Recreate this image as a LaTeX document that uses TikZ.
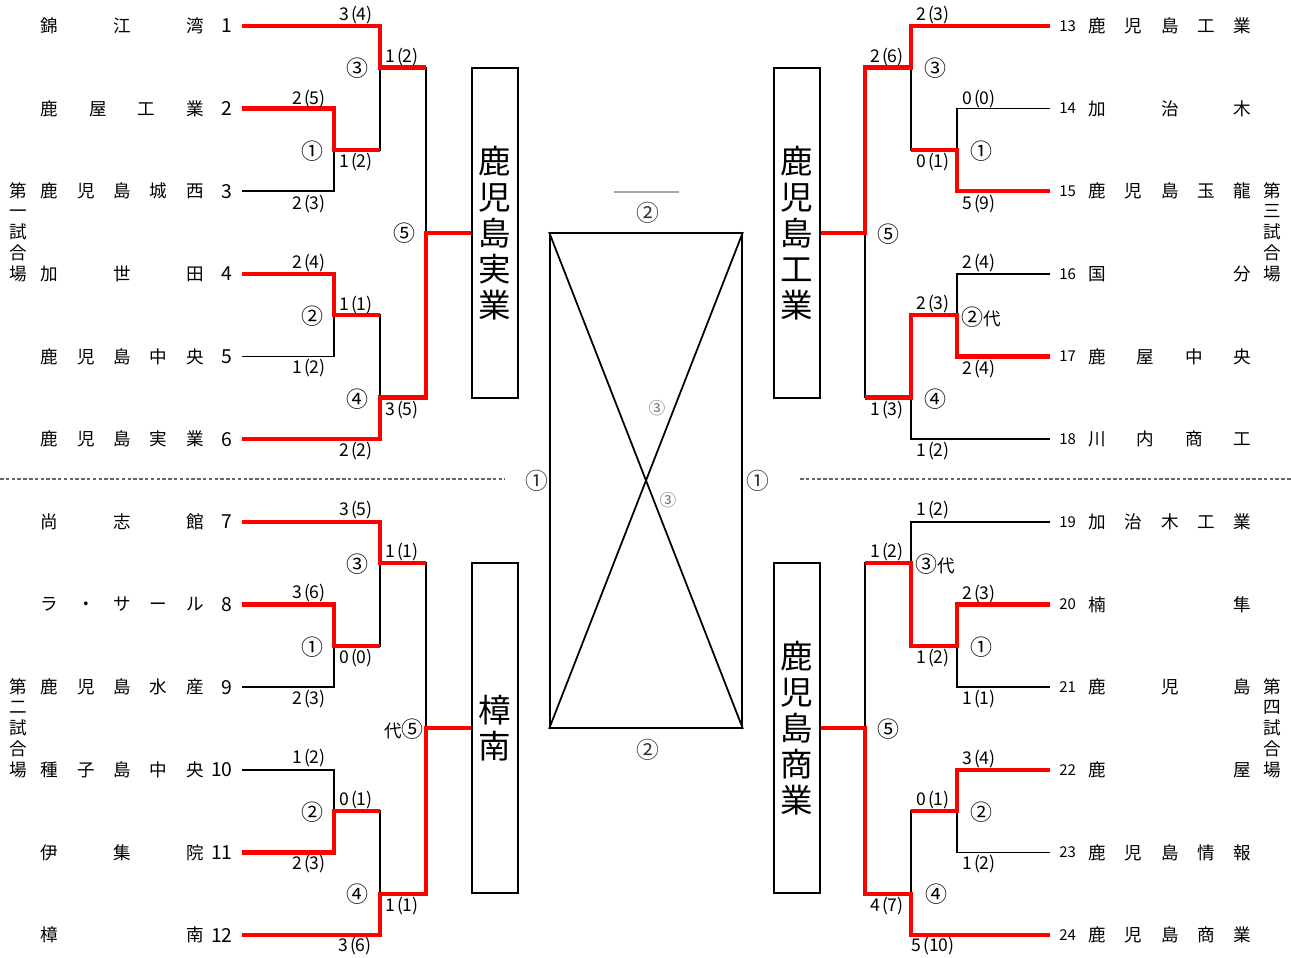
\documentclass[tikz,border=0pt]{standalone}
\usepackage{fontspec}
\setmainfont{Noto Sans CJK JP}
\tikzset{
  wire/.style = {draw=black, line width=1pt},
  wire_w/.style = {draw=red, line width=2.4pt},
  team/.style = {inner sep=0pt, anchor=west, font=\fontsize{10}{12}\selectfont},
  num_l/.style = {inner sep=0pt, anchor=east, font=\fontsize{11}{13}\selectfont},
  num_r/.style = {inner sep=0pt, anchor=west, font=\fontsize{8.5}{10}\selectfont},
  score/.style = {inner sep=0pt, font=\fontsize{10}{12}\selectfont},
  score_c/.style = {inner sep=0pt, black!80, font=\fontsize{13}{14}\selectfont},
  score_s/.style = {inner sep=0pt, black!55, font=\fontsize{9.5}{11}\selectfont},
  venue/.style = {inner sep=0pt, align=center, font=\fontsize{10}{11.8}\selectfont},
  winbox/.style = {draw, line width=1.1pt, inner sep=0pt, align=center,
    minimum width=0.92cm, minimum height=6.6cm, font=\fontsize{18.5}{20.5}\selectfont},
  dash_l/.style = {draw=black!60, line width=0.6pt, dash pattern=on 2pt off 1.3pt},
}
\newcommand{\tname}[1]{\makebox[3.26cm]{#1}}
\newcommand{\scr}[2]{#1\kern1.1pt(#2)}
\newcommand{\gno}[1]{{\fontsize{12.5}{12}\selectfont #1}}

\begin{document}
\begin{tikzpicture}[x=0.02cm, y=-0.02cm]
  \useasboundingbox (0,0) rectangle (1291,957);

  % teams, left
  \foreach \k/\y/\nm in {1/26/{錦\hfill 江\hfill 湾}, 2/108.6/{鹿\hfill 屋\hfill 工\hfill 業},
      3/191.3/{鹿\hfill 児\hfill 島\hfill 城\hfill 西}, 4/273.9/{加\hfill 世\hfill 田},
      5/356.6/{鹿\hfill 児\hfill 島\hfill 中\hfill 央}, 6/439.2/{鹿\hfill 児\hfill 島\hfill 実\hfill 業},
      7/521.8/{尚\hfill 志\hfill 館}, 8/604.5/{ラ\hfill ・\hfill サ\hfill ー\hfill ル},
      9/687.1/{鹿\hfill 児\hfill 島\hfill 水\hfill 産}, 10/769.8/{種\hfill 子\hfill 島\hfill 中\hfill 央},
      11/852.4/{伊\hfill 集\hfill 院}, 12/935/{樟\hfill 南}}{
    \node[team] (t\k) at (40.5,\y) {\tname{\nm}};
    \node[num_l] (n\k) at (233,\y) {\k};
    \coordinate (L\k) at (242,\y);
  }
  % teams, right
  \foreach \k/\y/\nm in {13/26/{鹿\hfill 児\hfill 島\hfill 工\hfill 業}, 14/108.6/{加\hfill 治\hfill 木},
      15/191.3/{鹿\hfill 児\hfill 島\hfill 玉\hfill 龍}, 16/273.9/{国\hfill 分},
      17/356.6/{鹿\hfill 屋\hfill 中\hfill 央}, 18/439.2/{川\hfill 内\hfill 商\hfill 工},
      19/521.8/{加\hfill 治\hfill 木\hfill 工\hfill 業}, 20/604.5/{楠\hfill 隼},
      21/687.1/{鹿\hfill 児\hfill 島}, 22/769.8/{鹿\hfill 屋},
      23/852.4/{鹿\hfill 児\hfill 島\hfill 情\hfill 報}, 24/935/{鹿\hfill 児\hfill 島\hfill 商\hfill 業}}{
    \node[num_r] (n\k) at (1059,\y) {\k};
    \node[team] (t\k) at (1088,\y) {\tname{\nm}};
    \coordinate (R\k) at (1050,\y);
  }

  % venues
  \node[venue] (v1) at (18,232) {第\\一\\試\\合\\場};
  \node[venue] (v2) at (18,728) {第\\二\\試\\合\\場};
  \node[venue] (v3) at (1272,232) {第\\三\\試\\合\\場};
  \node[venue] (v4) at (1272,728) {第\\四\\試\\合\\場};

  % block winners
  \node[winbox] (b1) at (495,233) {鹿\\児\\島\\実\\業};
  \node[winbox] (b2) at (495,728) {樟\\南};
  \node[winbox] (b3) at (797,233) {鹿\\児\\島\\工\\業};
  \node[winbox] (b4) at (797,728) {鹿\\児\\島\\商\\業};

  % junctions
  \coordinate (p1) at (334,150);   \coordinate (q1) at (380,67.5);
  \coordinate (p2) at (334,315);   \coordinate (q2) at (380,397.5);
  \coordinate (f1) at (426,233);
  \coordinate (p3) at (334,646);   \coordinate (q3) at (380,563);
  \coordinate (p4) at (334,811);   \coordinate (q4) at (380,894);
  \coordinate (f2) at (426,728);
  \coordinate (p5) at (957,150);   \coordinate (q5) at (911,67.5);
  \coordinate (p6) at (957,315);   \coordinate (q6) at (911,397.5);
  \coordinate (f3) at (865,233);
  \coordinate (p7) at (957,646);   \coordinate (q7) at (911,563);
  \coordinate (p8) at (957,811);   \coordinate (q8) at (911,894);
  \coordinate (f4) at (865,728);

  % brackets
  \draw[wire] (L1) -| (q1) (L2) -| (p1) (L3) -| (p1) (p1) -- (p1 -| q1) -- (q1)
    -- (q1 -| f1) -- (q2 -| f1) -- (q2) (L4) -| (p2) (L5) -| (p2)
    (p2) -- (p2 -| q2) -- (q2) (L6) -| (q2) (f1) -- (b1.west);
  \draw[wire] (L7) -| (q3) (L8) -| (p3) (L9) -| (p3) (p3) -- (p3 -| q3) -- (q3)
    -- (q3 -| f2) -- (q4 -| f2) -- (q4) (L10) -| (p4) (L11) -| (p4)
    (p4) -- (p4 -| q4) -- (q4) (L12) -| (q4) (f2) -- (b2.west);
  \draw[wire] (R13) -| (q5) (R14) -| (p5) (R15) -| (p5) (p5) -- (p5 -| q5) -- (q5)
    -- (q5 -| f3) -- (q6 -| f3) -- (q6) (R16) -| (p6) (R17) -| (p6)
    (p6) -- (p6 -| q6) -- (q6) (R18) -| (q6) (f3) -- (b3.east);
  \draw[wire] (R19) -| (q7) (R20) -| (p7) (R21) -| (p7) (p7) -- (p7 -| q7) -- (q7)
    -- (q7 -| f4) -- (q8 -| f4) -- (q8) (R22) -| (p8) (R23) -| (p8)
    (p8) -- (p8 -| q8) -- (q8) (R24) -| (q8) (f4) -- (b4.east);

  % winners
  \draw[wire_w] (L1) -| (q1) -- (q1 -| f1);
  \draw[wire_w] (L2) -| (p1) -- (p1 -| q1);
  \draw[wire_w] (L4) -| (p2) -- (p2 -| q2);
  \draw[wire_w] (L6) -| (q2) -- (q2 -| f1) -- (f1) -- (b1.west);
  \draw[wire_w] (L7) -| (q3) -- (q3 -| f2);
  \draw[wire_w] (L8) -| (p3) -- (p3 -| q3);
  \draw[wire_w] (L11) -| (p4) -- (p4 -| q4);
  \draw[wire_w] (L12) -| (q4) -- (q4 -| f2) -- (f2) -- (b2.west);
  \draw[wire_w] (R13) -| (q5) -- (q5 -| f3) -- (f3) -- (b3.east);
  \draw[wire_w] (R15) -| (p5) -- (p5 -| q5);
  \draw[wire_w] (R17) -| (p6) -- (p6 -| q6) -- (q6) -- (q6 -| f3);
  \draw[wire_w] (R20) -| (p7) -- (p7 -| q7) -- (q7) -- (q7 -| f4);
  \draw[wire_w] (R22) -| (p8) -- (p8 -| q8);
  \draw[wire_w] (R24) -| (q8) -- (q8 -| f4) -- (f4) -- (b4.east);

  % scores and game numbers
  \foreach \x/\y/\t [count=\i] in {356/15/\scr{3}{4}, 402/57/\scr{1}{2}, 357/68/\gno{③},
      309/99/\scr{2}{5}, 312/151/\gno{①}, 356/162/\scr{1}{2}, 309/204/\scr{2}{3}, 404/233/\gno{⑤},
      309/263/\scr{2}{4}, 356/305/\scr{1}{1}, 312/316/\gno{②}, 309/368/\scr{1}{2}, 357/399/\gno{④},
      402/410/\scr{3}{5}, 356/451/\scr{2}{2},
      356/510/\scr{3}{5}, 402/552/\scr{1}{1}, 357/564/\gno{③}, 309/593/\scr{3}{6}, 312/647/\gno{①},
      356/658/\scr{0}{0}, 309/699/\scr{2}{3}, 309/758/\scr{1}{2}, 356/800/\scr{0}{1}, 312/812/\gno{②},
      309/864/\scr{2}{3}, 357/894/\gno{④}, 402/906/\scr{1}{1}, 355/946/\scr{3}{6}, 404/729/代\gno{⑤},
      933/15/\scr{2}{3}, 887/57/\scr{2}{6}, 935/68/\gno{③}, 979/99/\scr{0}{0}, 981/151/\gno{①},
      933/162/\scr{0}{1}, 979/204/\scr{5}{9}, 888/234/\gno{⑤}, 979/263/\scr{2}{4}, 933/304/\scr{2}{3},
      981/317/\gno{②}代, 979/369/\scr{2}{4}, 935/399/\gno{④}, 887/410/\scr{1}{3}, 933/451/\scr{1}{2},
      933/510/\scr{1}{2}, 887/552/\scr{1}{2}, 935/564/\gno{③}代, 979/594/\scr{2}{3}, 981/647/\gno{①},
      933/658/\scr{1}{2}, 979/699/\scr{1}{1}, 888/729/\gno{⑤}, 979/759/\scr{3}{4}, 933/800/\scr{0}{1},
      981/812/\gno{②}, 979/864/\scr{1}{2}, 936/894/\gno{④}, 887/906/\scr{4}{7}, 933/946/\scr{5}{10}}
    \node[score] (s\i) at (\x,\y) {\t};

  % final
  \node[draw, line width=1.1pt, inner sep=0pt, minimum width=3.84cm, minimum height=9.9cm] (fin) at (646,480.5) {};
  \draw[wire] (fin.north west) -- (fin.south east) (fin.north east) -- (fin.south west);
  \node[score_c] (c1) at (537,481) {①};
  \node[score_c] (c2) at (758,481) {①};
  \node[score_c] (c3) at (648,213) {②};
  \node[score_c] (c4) at (648,750) {②};
  \node[score_s] (c5) at (657,408) {③};
  \node[score_s] (c6) at (668,500) {③};
  \coordinate (g1) at (614,192);
  \coordinate (g2) at (679,192);
  \draw[black!35, line width=1pt] (g1) -- (g2);

  % separators
  \coordinate (d1) at (0,479);   \coordinate (d2) at (505,479);
  \coordinate (d3) at (800,479); \coordinate (d4) at (1291,479);
  \draw[dash_l] (d1) -- (d2) (d3) -- (d4);
\end{tikzpicture}
\end{document}
